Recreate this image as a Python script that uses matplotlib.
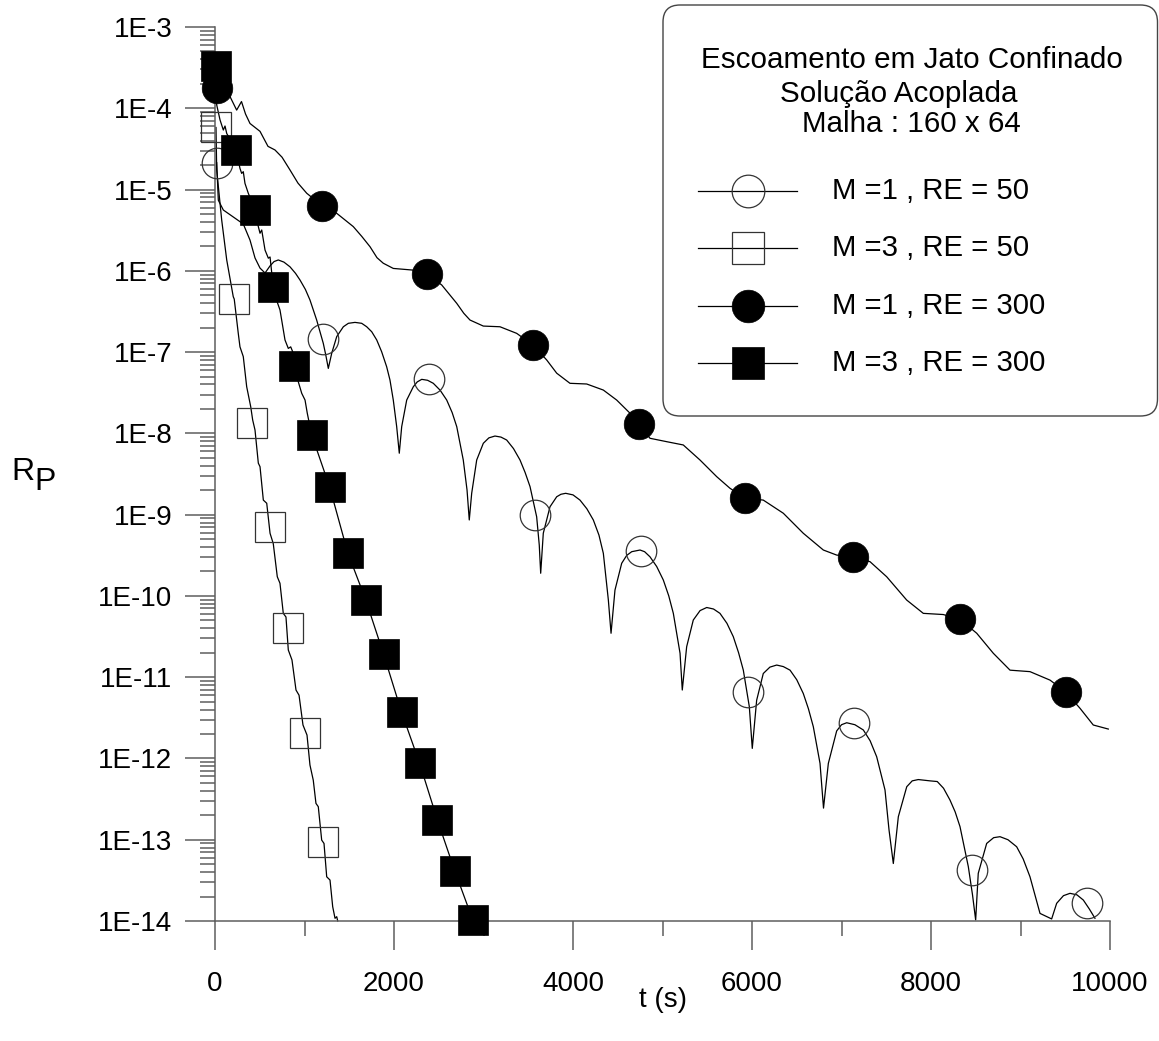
import numpy as np
import matplotlib
matplotlib.use("Agg")
import matplotlib.pyplot as plt
from matplotlib.ticker import LogLocator, FuncFormatter, NullFormatter, MultipleLocator
from matplotlib.patches import FancyBboxPatch

plt.rcParams['font.family'] = ['Liberation Sans', 'DejaVu Sans']

# ---------------------------------------------------------------------------
# Pressure residual R_P versus time t (s)
# ---------------------------------------------------------------------------

# M = 1, RE = 50  (open circles)
t_m1_re50 = [19, 37, 93, 204, 316, 391, 447, 503, 559, 615, 660, 707, 770, 838, 900, 950, 1010,
             1061, 1136, 1210, 1240, 1266,
             1304, 1360, 1434, 1490, 1564, 1639, 1695, 1751, 1807, 1862, 1918, 1955, 1992, 2030, 2059,
             2086, 2142, 2216, 2260, 2310, 2375, 2439, 2515, 2589, 2650, 2701, 2774, 2816, 2841,
             2868, 2924, 2998, 3060, 3128, 3195, 3259, 3335, 3408, 3465, 3520, 3594, 3623, 3639,
             3668, 3743, 3818, 3865, 3918, 4000, 4078, 4155, 4227, 4290, 4339, 4395, 4425,
             4469, 4544, 4600, 4656, 4749, 4800, 4860, 4935, 5009, 5070, 5121, 5196, 5221,
             5270, 5344, 5420, 5494, 5570, 5642, 5720, 5791, 5850, 5903, 5970, 6003,
             6052, 6126, 6200, 6276, 6350, 6425, 6500, 6573, 6630, 6685, 6760, 6799,
             6853, 6946, 7000, 7058, 7150, 7244, 7320, 7393, 7486, 7531, 7579,
             7635, 7729, 7790, 7858, 7989, 8070, 8140, 8212, 8270, 8324, 8417, 8464, 8499,
             8528, 8622, 8700, 8771, 8860, 8957, 9030, 9106, 9218, 9348,
             9404, 9480, 9553, 9630, 9702, 9770, 9832]
rp_m1_re50 = [2.14e-5, 7.4e-6, 5.6e-6, 4.6e-6, 3.77e-6, 2.39e-6, 1.44e-6, 1.08e-6, 9.4e-7, 1.15e-6, 1.30e-6, 1.36e-6, 1.28e-6, 1.12e-6, 9.3e-7, 7.7e-7, 5.9e-7,
              4.38e-7, 2.48e-7, 1.28e-7, 8.95e-8, 6.3e-8,
              9.66e-8, 1.55e-7, 2.05e-7, 2.26e-7, 2.32e-7, 2.26e-7, 2.05e-7, 1.78e-7, 1.41e-7, 1.01e-7, 6.6e-8, 4.53e-8, 2.57e-8, 1.21e-8, 5.7e-9,
              1.21e-8, 2.57e-8, 3.75e-8, 4.3e-8, 4.62e-8, 4.5e-8, 4.13e-8, 3.4e-8, 2.57e-8, 1.8e-8, 1.21e-8, 4.7e-9, 2.01e-9, 8.6e-10,
              1.83e-9, 4.7e-9, 7.55e-9, 8.8e-9, 9.27e-9, 9.0e-9, 8.28e-9, 6.5e-9, 4.7e-9, 3.3e-9, 2.21e-9, 9.4e-10, 4.23e-10, 1.90e-10,
              5.9e-10, 1.25e-9, 1.66e-9, 1.78e-9, 1.83e-9, 1.75e-9, 1.51e-9, 1.18e-9, 8.6e-10, 5.6e-10, 3.34e-10, 8.9e-11, 3.47e-11,
              1.18e-10, 2.52e-10, 3.15e-10, 3.50e-10, 3.67e-10, 3.5e-10, 3.03e-10, 2.3e-10, 1.57e-10, 1.0e-10, 6.1e-11, 1.97e-11, 6.95e-12,
              2.37e-11, 5.05e-11, 6.6e-11, 7.2e-11, 6.9e-11, 6.1e-11, 4.6e-11, 3.15e-11, 2.0e-11, 1.22e-11, 4.34e-12, 1.33e-12,
              5.2e-12, 1.11e-11, 1.33e-11, 1.41e-11, 1.35e-11, 1.22e-11, 9.3e-12, 6.3e-12, 4.1e-12, 2.46e-12, 8.7e-13, 2.45e-13,
              8.7e-13, 2.18e-12, 2.6e-12, 2.75e-12, 2.6e-12, 2.24e-12, 1.65e-12, 1.05e-12, 4.1e-13, 1.32e-13, 5.1e-14,
              1.92e-13, 4.49e-13, 5.3e-13, 5.5e-13, 5.3e-13, 5.2e-13, 4.3e-13, 3.08e-13, 2.2e-13, 1.45e-13, 4.66e-14, 2.09e-14, 1.03e-14,
              3.86e-14, 9.0e-14, 1.06e-13, 1.09e-13, 1.0e-13, 8.2e-14, 5.8e-14, 3.5e-14, 1.24e-14, 1.06e-14,
              1.65e-14, 2.05e-14, 2.19e-14, 2.1e-14, 1.81e-14, 1.4e-14, 1.08e-14]
t_m1_re50_mk = [19, 1203, 2391, 3579, 4756, 5955, 7140, 8455, 9740]
rp_m1_re50_mk = [2.14e-5, 1.44e-7, 4.62e-8, 9.8e-10, 3.56e-10, 6.5e-12, 2.70e-12, 4.3e-14, 1.65e-14]

# M = 3, RE = 50  (open squares)
t_m3_re50 = [11, 19, 75, 131, 204, 215, 260, 279, 316, 354, 399, 421, 447,
             484, 503, 540, 578, 615, 651, 696, 726, 763, 793, 819, 860, 905,
             939, 983, 1028, 1061, 1098, 1128, 1154, 1192, 1218, 1248, 1285,
             1315, 1341, 1360, 1371]
rp_m3_re50 = [5.8e-5, 1.74e-5, 4.2e-6, 1.36e-6, 4.8e-7, 4.49e-7, 1.70e-7, 1.16e-7, 8.8e-8, 3.75e-8, 2.13e-8, 1.46e-8, 1.10e-8,
              4.3e-9, 3.89e-9, 1.51e-9, 1.38e-9, 5.9e-10, 4.4e-10, 1.72e-10, 1.43e-10, 6.1e-11, 5.5e-11, 2.16e-11, 1.63e-11, 6.95e-12,
              6.0e-12, 2.58e-12, 1.94e-12, 8.3e-13, 5.4e-13, 2.8e-13, 2.55e-13, 9.9e-14, 9.0e-14, 3.5e-14, 3.19e-14,
              1.5e-14, 1.08e-14, 1.13e-14, 1.0e-14]
t_m3_re50_mk = [11, 215, 413, 617, 813, 1011, 1212]
rp_m3_re50_mk = [5.8e-5, 4.49e-7, 1.36e-8, 7.05e-10, 4.08e-11, 2.06e-12, 9.3e-14]

# M = 1, RE = 300  (filled circles)
t_m1_re300 = [19, 168, 242, 296, 341, 391, 503, 592, 670, 749, 838, 927,
              1025, 1199, 1360, 1545, 1640, 1732, 1810, 1880, 1992, 2216, 2372, 2533, 2701,
              2780, 2849, 2998, 3184, 3371, 3556, 3706, 3818, 3966, 4153, 4339, 4488,
              4637, 4735, 4860, 5047, 5232, 5419, 5606, 5754, 5925, 6126, 6350,
              6573, 6797, 6946, 7125, 7318, 7505, 7728, 7914, 8137, 8324, 8511,
              8696, 8883, 9106, 9330, 9503, 9665, 9813, 9981]
rp_m1_re300 = [1.76e-4, 1.39e-4, 9.5e-5, 1.21e-4, 8.5e-5, 6.5e-5, 5.2e-5, 3.4e-5, 3.07e-5, 2.5e-5, 1.74e-5, 1.2e-5,
               9.0e-6, 6.3e-6, 5.1e-6, 3.5e-6, 2.65e-6, 1.98e-6, 1.45e-6, 1.24e-6, 1.07e-6, 1.02e-6, 9.06e-7, 6.7e-7, 3.98e-7,
               3.0e-7, 2.48e-7, 2.09e-7, 2.05e-7, 1.70e-7, 1.21e-7, 8.0e-8, 5.5e-8, 4.13e-8, 4.05e-8, 3.41e-8, 2.57e-8,
               1.77e-8, 1.29e-8, 8.7e-9, 7.9e-9, 7.2e-9, 4.7e-9, 2.93e-9, 2.11e-9, 1.59e-9, 1.51e-9, 1.04e-9,
               5.9e-10, 3.67e-10, 3.18e-10, 3.03e-10, 2.64e-10, 1.72e-10, 8.9e-11, 6.1e-11, 5.9e-11, 5.15e-11, 3.47e-11,
               1.97e-11, 1.22e-11, 1.17e-11, 9.2e-12, 6.6e-12, 4.14e-12, 2.58e-12, 2.30e-12]
t_m1_re300_mk = [19, 1199, 2372, 3556, 4735, 5925, 7125, 8324, 9503]
rp_m1_re300_mk = [1.76e-4, 6.3e-6, 9.06e-7, 1.21e-7, 1.29e-8, 1.59e-9, 3.03e-10, 5.15e-11, 6.6e-12]

# M = 3, RE = 300  (filled squares)
t_m3_re300 = [11, 19, 56, 93, 112, 131, 235, 279, 298, 316, 335, 372, 447,
              484, 503, 522, 559, 596, 615, 651, 696, 726, 745, 782, 819, 846,
              868, 879, 931, 969, 1006, 1031, 1080, 1282, 1483, 1684, 1883,
              2084, 2285, 2484, 2678, 2879]
rp_m3_re300 = [3.31e-4, 1.10e-4, 7.2e-5, 5.4e-5, 6.05e-5, 4.9e-5, 3.09e-5, 1.82e-5, 1.58e-5, 1.66e-5, 1.19e-5, 9.0e-6, 5.68e-6,
               3.5e-6, 2.9e-6, 3.18e-6, 1.80e-6, 1.43e-6, 1.48e-6, 6.3e-7, 4.1e-7, 3.3e-7, 2.48e-7, 1.41e-7, 1.11e-7, 1.16e-7,
               1.01e-7, 6.7e-8, 4.3e-8, 3.11e-8, 2.57e-8, 1.77e-8, 9.6e-9, 2.17e-9, 3.40e-10, 8.95e-11, 1.93e-11,
               3.72e-12, 8.8e-13, 1.76e-13, 4.16e-14, 1.04e-14]
t_m3_re300_mk = [11, 235, 447, 651, 879, 1080, 1282, 1483, 1684, 1883, 2084, 2285, 2484, 2678, 2879]
rp_m3_re300_mk = [3.31e-4, 3.09e-5, 5.68e-6, 6.3e-7, 6.7e-8, 9.6e-9, 2.17e-9, 3.40e-10, 8.95e-11, 1.93e-11,
                  3.72e-12, 8.8e-13, 1.76e-13, 4.16e-14, 1.04e-14]

series_labels = ["M =1 , RE = 50", "M =3 , RE = 50", "M =1 , RE = 300", "M =3 , RE = 300"]
title_lines = ["Escoamento em Jato Confinado", "Solução Acoplada", "Malha : 160 x 64"]
x_label = "t (s)"

# ---------------------------------------------------------------------------
W, H, DPI = 1159, 1041, 100
fig = plt.figure(figsize=(W / DPI, H / DPI), dpi=DPI)
fig.patch.set_facecolor("white")

ax_left, ax_right, ax_top, ax_bottom = 215, 1110, 27, 921
ax = fig.add_axes([ax_left / W, 1 - ax_bottom / H,
                   (ax_right - ax_left) / W, (ax_bottom - ax_top) / H])

AXIS_GREY = "#5e5e5e"
LW = 0.9
MS = 22.0

styles = [
    dict(marker="o", mfc="none", mec="#333333", mew=0.9),
    dict(marker="s", mfc="none", mec="#333333", mew=0.9),
    dict(marker="o", mfc="black", mec="black", mew=0.5),
    dict(marker="s", mfc="black", mec="black", mew=0.5),
]
curves = [
    (t_m1_re50, rp_m1_re50, t_m1_re50_mk, rp_m1_re50_mk),
    (t_m3_re50, rp_m3_re50, t_m3_re50_mk, rp_m3_re50_mk),
    (t_m1_re300, rp_m1_re300, t_m1_re300_mk, rp_m1_re300_mk),
    (t_m3_re300, rp_m3_re300, t_m3_re300_mk, rp_m3_re300_mk),
]
for (t, rp, tm, rpm), st in zip(curves, styles):
    ax.plot(t, rp, color="black", lw=LW, zorder=2, clip_on=False,
            solid_joinstyle="round")
    ax.plot(tm, rpm, linestyle="none", ms=MS, zorder=3, clip_on=False, **st)

ax.set_xlim(0, 10000)
ax.set_yscale("log")
ax.set_ylim(1e-14, 1e-3)

ax.yaxis.set_major_locator(LogLocator(base=10, subs=(1.0,), numticks=30))
ax.yaxis.set_minor_locator(LogLocator(base=10, subs=np.arange(2, 10), numticks=30))
ax.yaxis.set_major_formatter(FuncFormatter(lambda v, p: "1E%d" % int(round(np.log10(v)))))
ax.yaxis.set_minor_formatter(NullFormatter())
ax.xaxis.set_major_locator(MultipleLocator(2000))
ax.xaxis.set_minor_locator(MultipleLocator(1000))
ax.xaxis.set_major_formatter(FuncFormatter(lambda v, p: "%d" % int(round(v))))

for side in ("top", "right"):
    ax.spines[side].set_visible(False)
for side in ("left", "bottom"):
    ax.spines[side].set_color(AXIS_GREY)
    ax.spines[side].set_linewidth(1.1)

ax.tick_params(axis="both", which="both", direction="out", color=AXIS_GREY,
               width=1.1, labelsize=20, labelcolor="black")
ax.tick_params(axis="y", which="major", length=21.6, pad=9)
ax.tick_params(axis="y", which="minor", length=10.8)
ax.tick_params(axis="x", which="major", length=21.0, pad=15)
ax.tick_params(axis="x", which="minor", length=10.8)

# Overlay in pixel units for the annotation box and axis titles
ov = fig.add_axes([0, 0, 1, 1], facecolor="none")
ov.set_xlim(0, W)
ov.set_ylim(H, 0)
ov.axis("off")
ov.set_zorder(5)

ov.text(663, 1000, x_label, ha="center", va="center", fontsize=20)
ov.text(11, 480, "R", ha="left", va="baseline", fontsize=23)
ov.text(34, 490, "P", ha="left", va="baseline", fontsize=23)

box = FancyBboxPatch((663, 5), 1157.5 - 663, 416 - 5,
                     boxstyle="round,pad=0,rounding_size=17",
                     fc="white", ec="#444444", lw=1.0)
ov.add_patch(box)

for txt, cx, base in zip(title_lines, [911.5, 899, 911], [68.5, 101.5, 132]):
    ov.text(cx, base, txt, ha="center", va="baseline", fontsize=21.3)

row_y = [190.7, 248.3, 306, 363.3]
for lab, st, y in zip(series_labels, styles, row_y):
    ov.plot([698, 797], [y, y], color="black", lw=LW)
    ov.plot([747.7], [y], linestyle="none", ms=23.5, **st)
    ov.text(831.5, y, lab, ha="left", va="center", fontsize=21.2)

fig.savefig("out.png", dpi=DPI)
